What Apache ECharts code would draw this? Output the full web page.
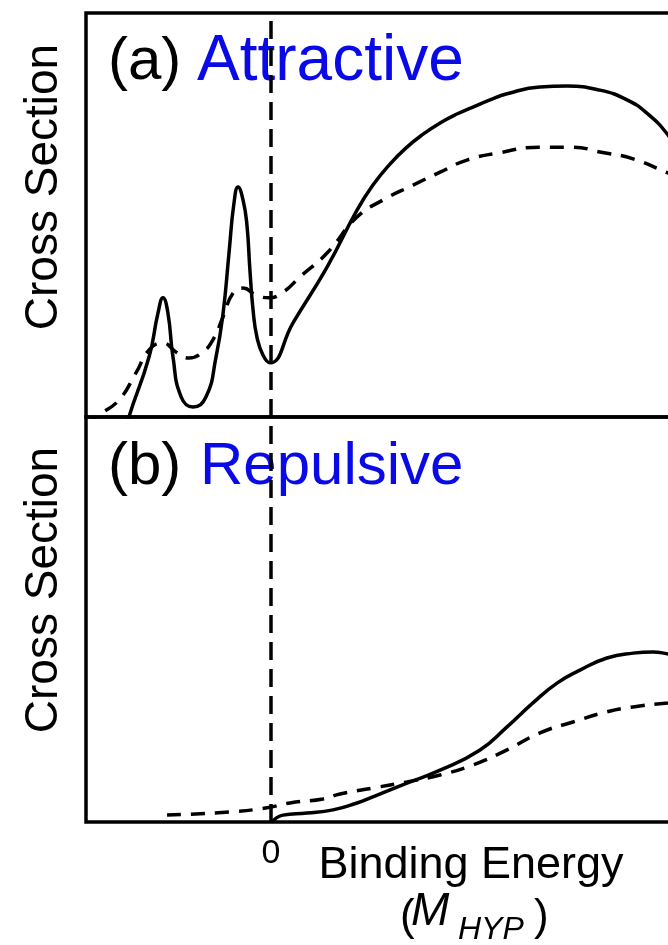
<!DOCTYPE html>
<html>
<head>
<meta charset="utf-8">
<script src="https://cdn.jsdelivr.net/npm/echarts@6/dist/echarts.min.js"></script>
<style>
html, body { margin: 0; padding: 0; background: #fff; }
#chart { width: 668px; height: 945px; }
</style>
</head>
<body>
<div id="chart"></div>
<script>
// 横轴刻度（只标 0）
var tickValues = [0];

// (a) Attractive —— 实线 / 虚线  [binding energy, cross section]
var attractiveSolid = [
    [-8.0, -6], [-7.68, 0], [-6.59, 14.9], [-6.11, 25.7], [-5.84, 29.5], [-5.57, 25.7],
    [-5.30, 14.9], [-4.86, 5.0], [-4.22, 2.5], [-3.51, 5.0], [-2.97, 14.9], [-2.59, 25.7],
    [-2.27, 40.6], [-2.0, 53.0], [-1.78, 56.9], [-1.51, 53.7], [-1.30, 47.5], [-1.14, 36.4],
    [-0.97, 26.5], [-0.76, 19.8], [-0.43, 15.3], [-0.05, 13.4], [1.19, 23.3], [3.03, 37.1],
    [4.65, 51.2], [5.51, 57.4], [6.43, 62.6], [7.35, 66.8], [8.22, 70.0], [9.14, 72.8],
    [10.05, 75.0], [10.92, 76.7], [11.84, 78.5], [12.76, 80.0], [14.54, 81.7], [16.0, 81.9],
    [17.78, 80.9], [19.24, 78.5], [20.32, 75.2], [21.46, 69.8], [22.1, 64.8]
];
var attractiveDashed = [
    [-10.0, -2], [-9.30, 0.5], [-8.22, 4.2], [-7.30, 10.9], [-6.59, 16.6], [-5.84, 18.3],
    [-5.14, 16.1], [-4.43, 14.6], [-3.68, 16.1], [-3.14, 19.1], [-2.59, 24.8], [-2.05, 30.7],
    [-1.51, 31.9], [-0.81, 30.2], [-0.11, 29.5], [0.65, 30.9], [1.57, 34.7], [3.03, 40.6],
    [4.65, 49.5], [6.05, 53.7], [7.68, 57.4], [9.14, 60.6], [10.59, 63.6], [12.22, 65.3],
    [14.54, 66.8], [16.32, 66.8], [17.78, 65.6], [19.57, 63.9], [21.46, 60.4], [22.1, 59.2]
];

// (b) Repulsive —— 实线 / 虚线
var repulsiveSolid = [
    [0.05, 0], [0.65, 1.7], [1.95, 2.2], [3.35, 3.0], [4.65, 4.7], [5.51, 6.2], [7.35, 9.6],
    [9.14, 12.8], [11.30, 17.8], [12.76, 23.5], [14.16, 29.4], [15.46, 34.3], [16.70, 37.5],
    [18.16, 40.5], [19.57, 41.7], [20.65, 42.0], [21.46, 41.5], [22.1, 41.0]
];
var repulsiveDashed = [
    [-5.62, 1.7], [-2.22, 2.5], [-0.22, 3.5], [1.03, 4.7], [2.81, 5.7], [3.73, 6.9], [5.51, 8.4],
    [7.35, 9.9], [9.14, 11.6], [10.92, 14.1], [12.76, 17.8], [14.54, 22.0], [16.32, 24.7],
    [18.16, 27.2], [19.57, 28.4], [21.46, 29.4], [22.1, 29.6]
];

var FONT = '"Liberation Sans", Arial, sans-serif';
var BLUE = '#0a0ae6';

function curve(data, idx, dashed) {
    return {
        type: 'line',
        xAxisIndex: idx,
        yAxisIndex: idx,
        data: data,
        showSymbol: false,
        smooth: 0.5,
        silent: true,
        clip: true,
        lineStyle: { color: '#000', width: 3.5, type: dashed ? [14, 10] : 'solid' }
    };
}

function zeroLine() {
    return {
        silent: true,
        symbol: ['none', 'none'],
        label: { show: false },
        lineStyle: { color: '#000', width: 3.5, type: [18, 9] },
        data: [{ xAxis: 0 }]
    };
}

function xAxisOf(idx, showLabel) {
    return {
        type: 'value',
        gridIndex: idx,
        min: -10,
        max: 22,
        interval: 10,
        axisLine: { show: false },
        axisTick: { show: false },
        splitLine: { show: false },
        axisLabel: {
            show: showLabel,
            margin: 15,
            fontSize: 34,
            fontFamily: FONT,
            color: '#000',
            formatter: function (v) { return tickValues.indexOf(v) >= 0 ? String(v) : ''; }
        }
    };
}

function yAxisOf(idx) {
    return {
        type: 'value',
        gridIndex: idx,
        min: 0,
        max: 100,
        axisLine: { show: false },
        axisTick: { show: false },
        axisLabel: { show: false },
        splitLine: { show: false }
    };
}

function txt(x, y, text, font, color, extra) {
    var el = {
        type: 'text',
        x: x,
        y: y,
        silent: true,
        style: {
            text: text,
            font: font + ' ' + FONT,
            fill: color,
            align: 'left',
            verticalAlign: 'middle'
        }
    };
    if (extra) {
        for (var k in extra) el[k] = extra[k];
    }
    return el;
}

var dashedA = curve(attractiveDashed, 0, true);
dashedA.markLine = zeroLine();
var dashedB = curve(repulsiveDashed, 1, true);
dashedB.markLine = zeroLine();

var option = {
    animation: false,
    backgroundColor: '#fff',
    grid: [
        { left: 86, top: 13, width: 592, height: 404, show: true, borderColor: '#000', borderWidth: 3.5, containLabel: false, outerBoundsMode: 'none' },
        { left: 86, top: 417, width: 592, height: 405, show: true, borderColor: '#000', borderWidth: 3.5, containLabel: false, outerBoundsMode: 'none' }
    ],
    xAxis: [xAxisOf(0, false), xAxisOf(1, true)],
    yAxis: [yAxisOf(0), yAxisOf(1)],
    series: [
        curve(attractiveSolid, 0, false),
        dashedA,
        curve(repulsiveSolid, 1, false),
        dashedB
    ],
    graphic: [
        txt(44, 187, 'Cross Section', '46px', '#000', { rotation: Math.PI / 2 }),
        txt(44, 590, 'Cross Section', '46px', '#000', { rotation: Math.PI / 2 }),
        txt(108, 62, '(a)', '60px', '#000'),
        txt(197, 62, 'Attractive', '64px', BLUE),
        txt(108, 467, '(b)', '60px', '#000'),
        txt(200, 467, 'Repulsive', '60px', BLUE),
        txt(471, 866, 'Binding Energy', '45px', '#000'),
        txt(400, 918, '(', '44px', '#000'),
        txt(411, 912, 'M', 'italic 46px', '#000'),
        txt(458, 930, 'HYP', 'italic 32px', '#000'),
        txt(534, 918, ')', '44px', '#000')
    ]
};

// 居中对齐的文字
option.graphic[0].style.align = 'center';
option.graphic[1].style.align = 'center';
option.graphic[6].style.align = 'center';

var myChart = echarts.init(document.getElementById('chart'));
myChart.setOption(option);
</script>
</body>
</html>
